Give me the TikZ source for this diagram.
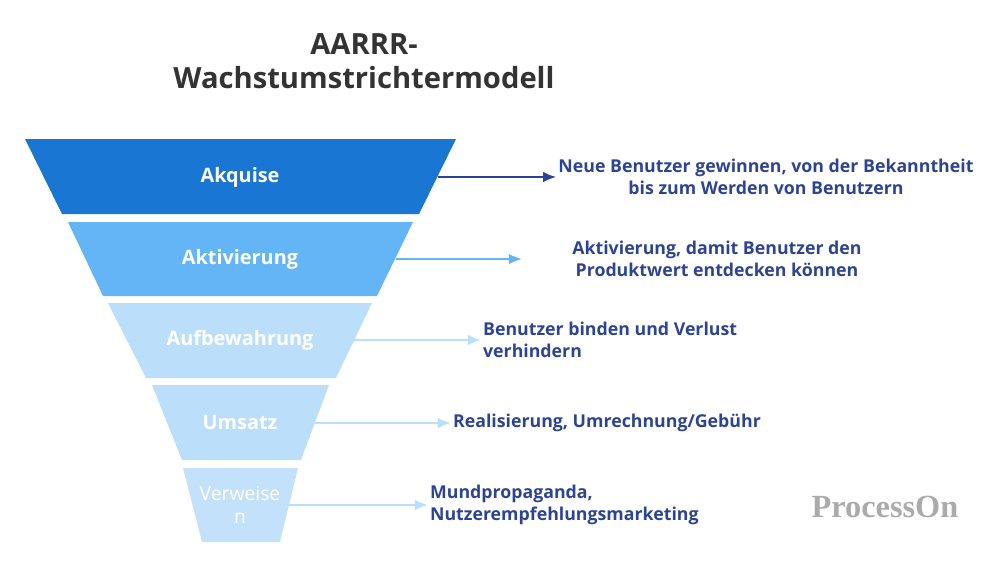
\documentclass[tikz,border=0pt]{standalone}
\usepackage{fontspec}
\setmainfont{Open Sans}
\newfontfamily\logofont{Liberation Serif}
\usetikzlibrary{arrows.meta}
\definecolor{lay1}{HTML}{1976D2}
\definecolor{lay2}{HTML}{64B5F6}
\definecolor{lay3}{HTML}{BBDEFB}
\definecolor{lay5}{HTML}{C3E1FB}
\definecolor{navy}{HTML}{2D4496}
\definecolor{titlegray}{HTML}{333333}
\tikzset{
  lbl/.style={text=white,font=\fontsize{11.3}{13}\selectfont\bfseries},
  desc/.style={text=navy,font=\fontsize{10.1}{12.2}\selectfont\bfseries,inner sep=1pt},
  conn/.style={->,line width=1pt}
}
\begin{document}
\begin{tikzpicture}[x=0.02cm,y=-0.02cm,>={Latex[length=7.5pt,width=6pt]}]
\useasboundingbox (0,0) rectangle (1000,566);
% title
\node[text=titlegray,font=\fontsize{16.6}{19}\selectfont\bfseries,align=center] (title) at (364,61) {AARRR-\\Wachstumstrichtermodell};
% funnel
\fill[lay1](25,139)--(456,139)--(419,214)--(62,214)--cycle;
\fill[lay2](68,222)--(413,222)--(377,296)--(103,296)--cycle;
\fill[lay3](108,303)--(372,303)--(336,378)--(146,378)--cycle;
\fill[lay3](152,385)--(329,385)--(301,460)--(182,460)--cycle;
\fill[lay5](183,468)--(298,468)--(280,542)--(202,542)--cycle;
\node[lbl] (akq) at (240,177) {Akquise};
\node[lbl] (akt) at (240,259) {Aktivierung};
\node[lbl] (auf) at (240,340) {Aufbewahrung};
\node[lbl] (ums) at (240,422) {Umsatz};
\node[lbl,font=\fontsize{11}{13.5}\selectfont,align=center] (ver) at (240,505) {Verweise\\n};
\coordinate (akq-r) at (438,177);
\coordinate (akt-r) at (396,259);
\coordinate (auf-r) at (354,340);
\coordinate (ums-r) at (315,423);
\coordinate (ver-r) at (289,505);
% descriptions
\node[desc,align=center] (akq-d) at (766,177) {Neue Benutzer gewinnen, von der Bekanntheit\\bis zum Werden von Benutzern};
\node[desc,align=center] (akt-d) at (717,259) {Aktivierung, damit Benutzer den\\Produktwert entdecken können};
\node[desc,align=left,anchor=west] (auf-d) at (481,340) {Benutzer binden und Verlust\\verhindern};
\node[desc,anchor=west] (ums-d) at (451,423) {Realisierung, Umrechnung/Gebühr};
\node[desc,align=left,anchor=west] (ver-d) at (428,505) {Mundpropaganda,\\Nutzerempfehlungsmarketing};
\coordinate (akt-e) at (522,259);
\draw[conn,navy,line width=1.3pt](akq-r)--(akq-d.west);
\draw[conn,lay2](akt-r)--(akt-e);
\draw[conn,lay3](auf-r)--(auf-d.west);
\draw[conn,lay3](ums-r)--(ums-d.west);
\draw[conn,lay3](ver-r)--(ver-d.west);
% watermark
\node[text=black!33,font=\logofont\fontsize{18.4}{20}\selectfont\bfseries] (logo) at (885,507) {ProcessOn};
\end{tikzpicture}
\end{document}
